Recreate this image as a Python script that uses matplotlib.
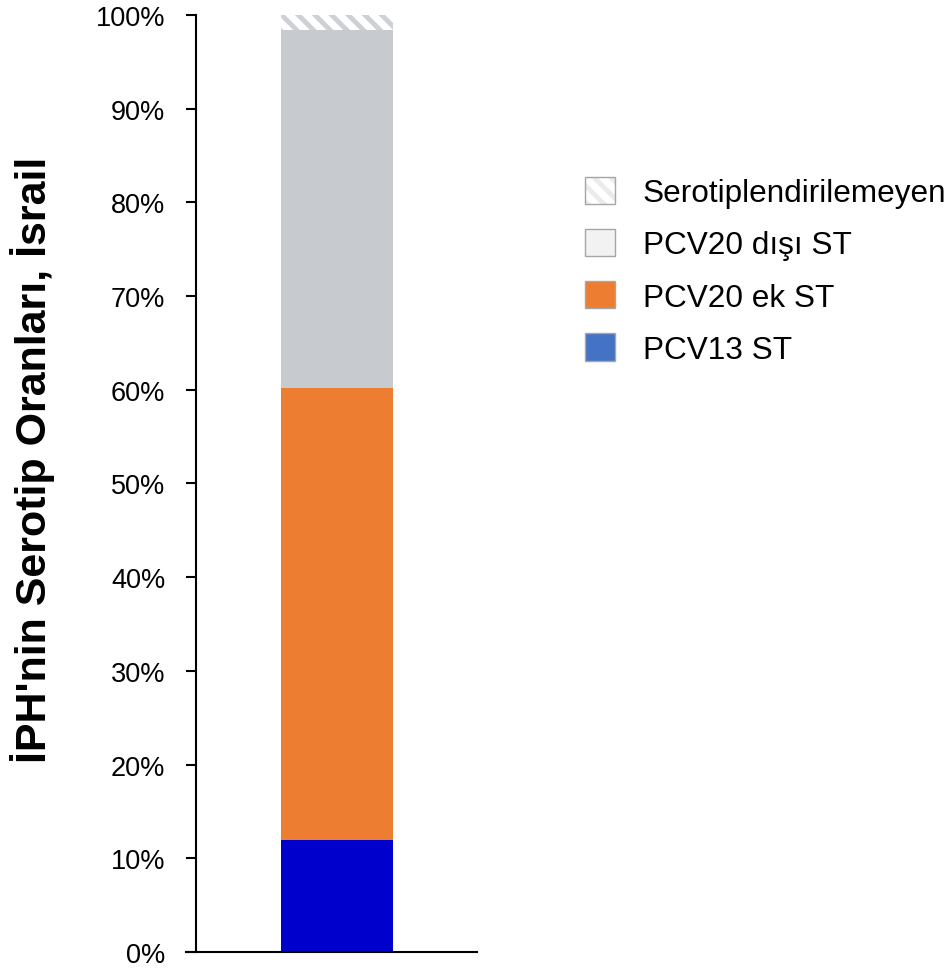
import matplotlib.pyplot as plt
from matplotlib.patches import Patch
from matplotlib.legend_handler import HandlerTuple

plt.rcParams['font.family'] = ['Liberation Sans', 'DejaVu Sans']
plt.rcParams['hatch.linewidth'] = 3.5

# serotype shares (%), stacked bottom to top
segments = ['PCV13 ST', 'PCV20 ek ST', 'PCV20 dışı ST', 'Serotiplendirilemeyen']
values = [12.0, 48.2, 38.2, 1.6]
bar_colors = ['#0000CC', '#ED7D31', '#C7CBD0', 'white']
legend_colors = ['#4472C4', '#ED7D31', '#F2F2F2', 'white']
yticks = [0, 10, 20, 30, 40, 50, 60, 70, 80, 90, 100]
ylabel = "İPH'nin Serotip Oranları, İsrail"

fig = plt.figure(figsize=(9.5, 9.7), dpi=100)
ax = fig.add_axes([186 / 950, 17 / 970, 291 / 950, 937 / 970])

bottom = 0
for name, v, c in zip(segments, values, bar_colors):
    if name == 'Serotiplendirilemeyen':
        ax.bar(0.519, v, width=0.385, bottom=bottom, facecolor='white',
               edgecolor='#CDD1D6', linewidth=0, hatch='\\\\')
    else:
        ax.bar(0.519, v, width=0.385, bottom=bottom, color=c, linewidth=0)
    bottom += v

ax.set_xlim(0, 1)
ax.set_ylim(0, 100)
ax.set_yticks(yticks)
ax.set_yticklabels([f'{t}%' for t in yticks])
ax.set_xticks([])
ax.spines['top'].set_visible(False)
ax.spines['right'].set_visible(False)
ax.spines['left'].set_position(('outward', -7.2))
ax.spines['left'].set_linewidth(1.5)
ax.spines['bottom'].set_linewidth(1.5)
ax.tick_params(axis='y', length=7.2, width=1.5, pad=15, labelsize=19.5)
ax.set_ylabel(ylabel, fontsize=31, fontweight='bold')
ax.yaxis.set_label_coords(-0.45, 0.526)

handles = []
for name, c in zip(segments[::-1], legend_colors[::-1]):
    box = Patch(facecolor=c, edgecolor='#A6A6A6', linewidth=1)
    if name == 'Serotiplendirilemeyen':
        stripes = Patch(facecolor='white', edgecolor='#EBEBEB',
                        hatch='\\\\', linewidth=0)
        box = Patch(facecolor='none', edgecolor='#A6A6A6', linewidth=1)
        handles.append((stripes, box))
    else:
        handles.append(box)

fig.legend(handles, segments[::-1], loc='upper left',
           bbox_to_anchor=(572 / 950, 1 - 165 / 970), frameon=False,
           fontsize=22.7, handlelength=0.95, handleheight=0.95,
           handletextpad=0.9, labelspacing=0.66, borderaxespad=0,
           handler_map={tuple: HandlerTuple(ndivide=1, pad=0)})

fig.savefig('out.png', dpi=100)
